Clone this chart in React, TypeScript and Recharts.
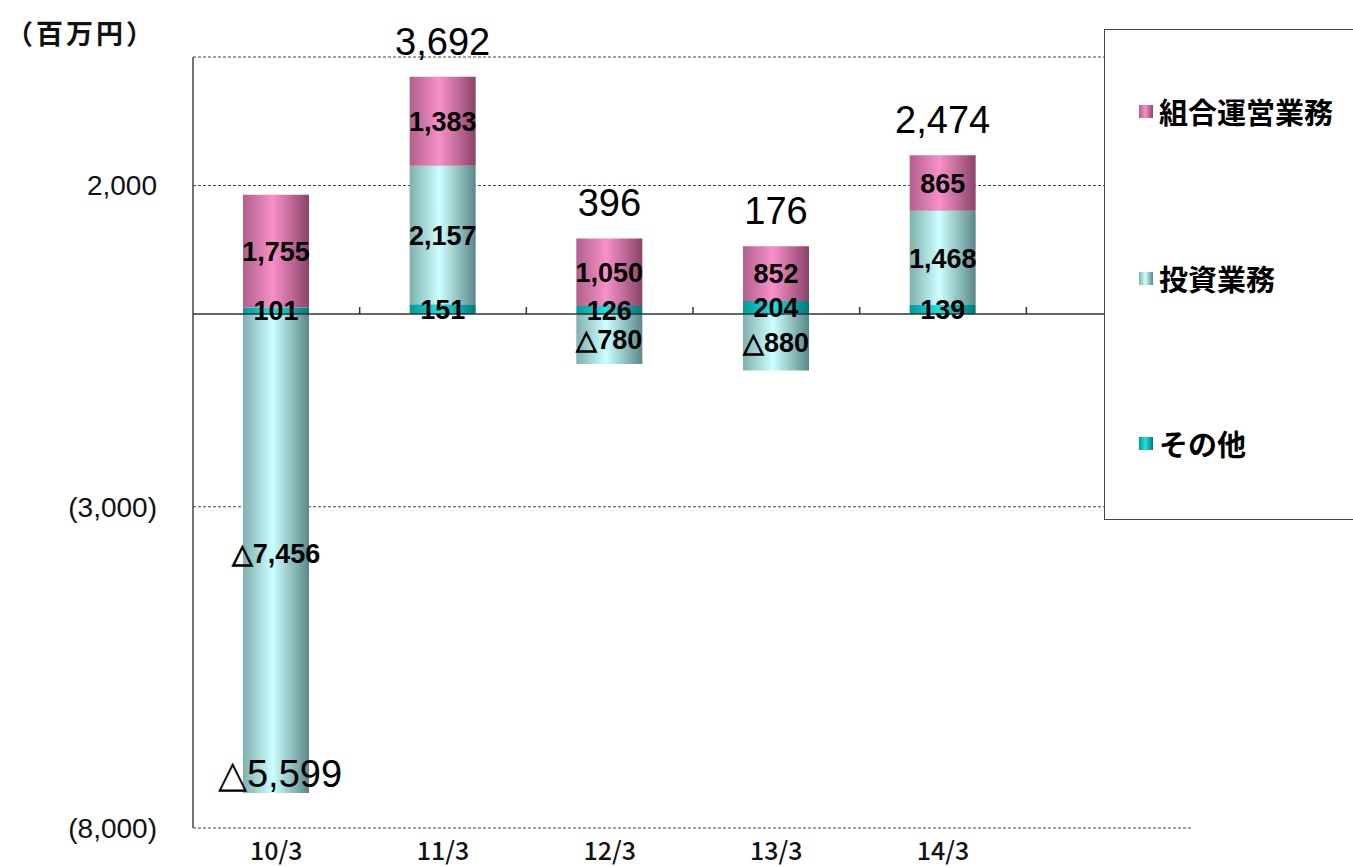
import React from 'react';
import { BarChart, Bar, XAxis, YAxis, CartesianGrid, ReferenceLine, LabelList } from 'recharts';

const categories = ['10/3', '11/3', '12/3', '13/3', '14/3', ''];
const otherValues = [101, 151, 126, 204, 139, null];
const investValues = [-7456, 2157, -780, -880, 1468, null];
const unionValues = [1755, 1383, 1050, 852, 865, null];
const totalValues = [-5599, 3692, 396, 176, 2474, null];
const yTicks = [-8000, -3000, 2000];
const seriesNames = ['組合運営業務', '投資業務', 'その他'];
const unitLabel = '（百万円）';

const data = categories.map((c, i) => ({
  cat: c,
  other: otherValues[i],
  invest: investValues[i],
  union: unionValues[i],
  total: totalValues[i],
}));

const num = (v: number) => Math.abs(v).toLocaleString('en-US');
const fmt = (v: number) => (v < 0 ? '△' + num(v) : num(v));
const fmtTick = (v: number) => (v < 0 ? `(${num(v)})` : num(v));

const ARIAL = "'Liberation Sans', Arial, sans-serif";
const CJK = "'Noto Sans CJK JP', sans-serif";

const box = (p: any) => {
  const vb = p.viewBox || {};
  const x = vb.x ?? p.x;
  const y = vb.y ?? p.y;
  const w = vb.width ?? p.width;
  const h = vb.height ?? p.height;
  return { x, y, w, h };
};

const SegLabel = (p: any) => {
  if (p.value == null) return null;
  const { x, y, w, h } = box(p);
  return (
    <text x={x + w / 2} y={y + h / 2} dy="0.36em" textAnchor="middle" fontFamily={ARIAL} fontWeight="bold" fontSize={27} fill="#000">
      {fmt(p.value)}
    </text>
  );
};

const TopTotal = (p: any) => {
  if (p.value == null || p.value < 0) return null;
  const { x, y, w, h } = box(p);
  const top = Math.min(y, y + h);
  return (
    <text x={x + w / 2} y={top - 22} textAnchor="middle" fontFamily={ARIAL} fontSize={38} fill="#000">
      {fmt(p.value)}
    </text>
  );
};

const BottomTotal = (p: any) => {
  if (p.value == null || p.value >= 0) return null;
  const { x, y, w, h } = box(p);
  const bottom = Math.max(y, y + h);
  return (
    <text x={x + w / 2 + 4} y={bottom - 6} textAnchor="middle" fontFamily={ARIAL} fontSize={38} fill="#000">
      {fmt(p.value)}
    </text>
  );
};

const ZeroLine = (p: any) => {
  const { x1, y1, x2, y2 } = p;
  const n = categories.length;
  const step = (x2 - x1) / n;
  const ticks = [] as any[];
  for (let i = 1; i < n; i++) {
    ticks.push(<line key={i} x1={x1 + i * step} x2={x1 + i * step} y1={y1} y2={y1 - 7} stroke="#333" strokeWidth={1.5} />);
  }
  return (
    <g>
      <line x1={x1} y1={y1} x2={x2} y2={y2} stroke="#333" strokeWidth={1.5} />
      {ticks}
    </g>
  );
};

const legendSwatches = [
  'linear-gradient(to right, #b0608c, #f890c8 45%, #8a4468)',
  'linear-gradient(to right, #80b0b0, #ccffff 45%, #5a8888)',
  'linear-gradient(to right, #009a9a, #22e0e0 45%, #007a7a)',
];
const legendTops = [110, 277, 442];

export default function App() {
  return (
    <div style={{ position: 'absolute', left: 0, top: 0, width: 1353, height: 867, background: '#fff', overflow: 'hidden' }}>
      <BarChart
        width={1353}
        height={867}
        data={data}
        stackOffset="sign"
        barSize={66}
        margin={{ top: 57, right: 160, bottom: 0, left: 93 }}
      >
        <defs>
          <linearGradient id="gUnion" x1="0" y1="0" x2="1" y2="0">
            <stop offset="0%" stopColor="#b0608c" />
            <stop offset="45%" stopColor="#f890c8" />
            <stop offset="100%" stopColor="#8a4468" />
          </linearGradient>
          <linearGradient id="gInvest" x1="0" y1="0" x2="1" y2="0">
            <stop offset="0%" stopColor="#80b0b0" />
            <stop offset="45%" stopColor="#ccffff" />
            <stop offset="100%" stopColor="#5a8888" />
          </linearGradient>
          <linearGradient id="gOther" x1="0" y1="0" x2="1" y2="0">
            <stop offset="0%" stopColor="#009a9a" />
            <stop offset="45%" stopColor="#22e0e0" />
            <stop offset="100%" stopColor="#007a7a" />
          </linearGradient>
        </defs>
        <CartesianGrid vertical={false} strokeDasharray="3 2" stroke="#444" />
        <XAxis
          dataKey="cat"
          height={39}
          axisLine={false}
          tickLine={false}
          tickSize={0}
          tickMargin={14}
          interval={0}
          tick={{ fontFamily: CJK, fontSize: 25, fontWeight: 500, fill: '#111' }}
        />
        <YAxis
          width={100}
          domain={[-8000, 4000]}
          ticks={yTicks}
          interval={0}
          tickFormatter={fmtTick}
          axisLine={{ stroke: '#444', strokeWidth: 1.5 }}
          tickLine={false}
          tickSize={0}
          tickMargin={36}
          tick={{ fontFamily: ARIAL, fontSize: 28, fill: '#111' }}
        />
        <Bar dataKey="other" stackId="a" fill="url(#gOther)" isAnimationActive={false}>
          <LabelList dataKey="other" content={SegLabel} />
        </Bar>
        <Bar dataKey="invest" stackId="a" fill="url(#gInvest)" isAnimationActive={false}>
          <LabelList dataKey="invest" content={SegLabel} />
          <LabelList dataKey="total" content={BottomTotal} />
        </Bar>
        <Bar dataKey="union" stackId="a" fill="url(#gUnion)" isAnimationActive={false}>
          <LabelList dataKey="union" content={SegLabel} />
          <LabelList dataKey="total" content={TopTotal} />
        </Bar>
        <ReferenceLine y={0} shape={ZeroLine} />
      </BarChart>
      <div style={{ position: 'absolute', left: 6, top: 14, fontFamily: CJK, fontWeight: 'bold', fontSize: 27, lineHeight: '38px', color: '#111', letterSpacing: 3 }}>
        {unitLabel}
      </div>
      <div style={{ position: 'absolute', left: 1104, top: 29, width: 300, height: 491, border: '1.5px solid #444', background: '#fff', boxSizing: 'border-box' }}>
        {seriesNames.map((n, i) => (
          <div key={n} style={{ position: 'absolute', left: 34, top: legendTops[i] - 29 - 20, height: 40, display: 'flex', alignItems: 'center' }}>
            <div style={{ width: 14, height: 13, background: legendSwatches[i], marginRight: 6 }} />
            <span style={{ fontFamily: CJK, fontWeight: 'bold', fontSize: 29, color: '#000', whiteSpace: 'nowrap' }}>{n}</span>
          </div>
        ))}
      </div>
    </div>
  );
}
